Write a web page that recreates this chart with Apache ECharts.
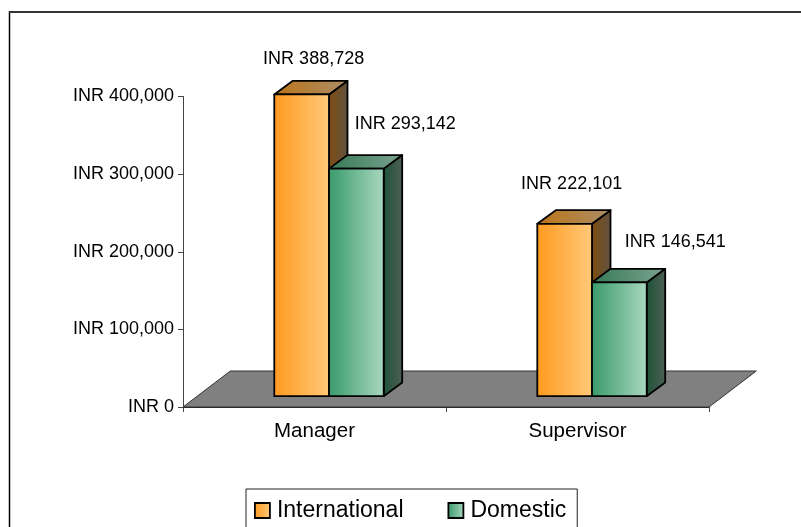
<!DOCTYPE html>
<html><head><meta charset="utf-8">
<style>html,body{margin:0;padding:0;background:#fff}#c{width:801px;height:527px}</style>
<script src="https://cdn.jsdelivr.net/npm/echarts@6/dist/echarts.min.js"></script>
</head><body><div id="c"></div>
<script>
const categories = ['Manager', 'Supervisor'];
const international = [388728, 222101];
const domestic = [293142, 146541];
const yTicks = [0, 100000, 200000, 300000, 400000];
const seriesNames = ['International', 'Domestic'];

// styling only
const FONT = 'Liberation Sans, Arial, sans-serif';
const grad = (a, b) => new echarts.graphic.LinearGradient(0, 0, 1, 0, [{offset: 0, color: a}, {offset: 1, color: b}]);
const palette = [
  {front: ['#FF9A1F', '#FFC97A'], top: ['#BC7418', '#AB8E66'], side: ['#7F4D12', '#5F5240']},
  {front: ['#389A6A', '#AAD8C0'], top: ['#367A56', '#7BA390'], side: ['#1D5236', '#4E6054']}
];
const labelNudge = [[[12, -35.5], [7, -39.5]], [[49, -44.5], [56, -40.5]]];
const BAR = 0.208, OFF_X = 14.5, OFF_Y = -10.8, D_X = 18.5, D_Y = -13.6;
const FLOOR_X = 47.3, FLOOR_Y = -36;
const fmt = v => 'INR ' + v.toLocaleString('en-US');

function barRenderer(si) {
  return function (params, api) {
    const cat = api.value(0), val = api.value(1);
    const base = api.coord([cat, 0]), tip = api.coord([cat, val]);
    const w = api.size([1, 0])[0] * BAR;
    const x0 = base[0] + OFF_X + (si - 1) * w, x1 = x0 + w;
    const yb = base[1] + OFF_Y, yt = tip[1] + OFF_Y;
    const c = palette[si];
    const st = {stroke: '#000', lineWidth: 1.8, lineJoin: 'round'};
    const n = labelNudge[si][params.dataIndex];
    return {type: 'group', children: [
      {type: 'polygon', shape: {points: [[x1, yb], [x1 + D_X, yb + D_Y], [x1 + D_X, yt + D_Y], [x1, yt]]},
       style: Object.assign({fill: grad(c.side[0], c.side[1])}, st)},
      {type: 'polygon', shape: {points: [[x0, yt], [x0 + D_X, yt + D_Y], [x1 + D_X, yt + D_Y], [x1, yt]]},
       style: Object.assign({fill: grad(c.top[0], c.top[1])}, st)},
      {type: 'rect', shape: {x: x0, y: yt, width: w, height: yb - yt},
       style: Object.assign({fill: grad(c.front[0], c.front[1])}, st)},
      {type: 'text', z2: 10, style: {text: fmt(val), x: (x0 + x1) / 2 + n[0], y: yt + n[1],
        align: 'center', verticalAlign: 'middle', fill: '#000', fontFamily: FONT, fontSize: 18}}
    ]};
  };
}
function floorRenderer(params, api) {
  const cs = params.coordSys, l = cs.x, r = cs.x + cs.width, b = cs.y + cs.height;
  return {type: 'polygon', shape: {points: [[l, b], [r, b], [r + FLOOR_X, b + FLOOR_Y], [l + FLOOR_X, b + FLOOR_Y]]},
    style: {fill: '#808080', stroke: '#333', lineWidth: 1}};
}
const toData = arr => arr.map((v, i) => [i, v]);

const chart = echarts.init(document.getElementById('c'), null, {renderer: 'canvas'});
chart.setOption({
  animation: false,
  backgroundColor: '#fff',
  textStyle: {fontFamily: FONT, color: '#000'},
  grid: {left: 183, right: 92, top: 96.5, bottom: 120},
  graphic: [
    {type: 'line', silent: true, shape: {x1: 9.5, y1: 11, x2: 9.5, y2: 527}, style: {stroke: '#000', lineWidth: 1.5}},
    {type: 'line', silent: true, shape: {x1: 9, y1: 12, x2: 801, y2: 12}, style: {stroke: '#333', lineWidth: 2}}
  ],
  legend: {
    left: 246, top: 489, orient: 'horizontal', icon: 'rect',
    padding: [10, 11, 33, 8], itemGap: 44, itemWidth: 15, itemHeight: 15,
    borderColor: '#222', borderWidth: 1, backgroundColor: '#fff',
    textStyle: {fontFamily: FONT, fontSize: 23, color: '#000', padding: [0, 0, 0, 2]},
    data: seriesNames.map((name, i) => ({name, itemStyle: {color: grad(palette[i].front[0], palette[i].front[1]), borderColor: '#000', borderWidth: 1.8}}))
  },
  xAxis: {type: 'category', data: categories, boundaryGap: true,
    axisLine: {lineStyle: {color: '#222', width: 1}},
    axisTick: {show: true, alignWithLabel: false, length: 5, lineStyle: {color: '#444'}},
    axisLabel: {color: '#000', fontFamily: FONT, fontSize: 20.5, margin: 14}},
  yAxis: {type: 'value', min: yTicks[0], max: yTicks[yTicks.length - 1], interval: yTicks[1] - yTicks[0],
    splitLine: {show: false},
    axisLine: {show: true, lineStyle: {color: '#444', width: 1}},
    axisTick: {show: true, length: 5, lineStyle: {color: '#444'}},
    axisLabel: {color: '#000', fontFamily: FONT, fontSize: 18, margin: 9, lineHeight: 20, padding: [4, 0, 0, 0], formatter: v => fmt(v)}},
  series: [
    {type: 'custom', name: '_floor', silent: true, z: 1, clip: false, renderItem: floorRenderer,
     data: [[0, 0]], encode: {x: 0, y: 1}},
    {type: 'custom', name: seriesNames[0], z: 2, clip: false, renderItem: barRenderer(0), data: toData(international), encode: {x: 0, y: 1},
     itemStyle: {color: grad(palette[0].front[0], palette[0].front[1])}},
    {type: 'custom', name: seriesNames[1], z: 3, clip: false, renderItem: barRenderer(1), data: toData(domestic), encode: {x: 0, y: 1},
     itemStyle: {color: grad(palette[1].front[0], palette[1].front[1])}}
  ]
});
</script></body></html>
